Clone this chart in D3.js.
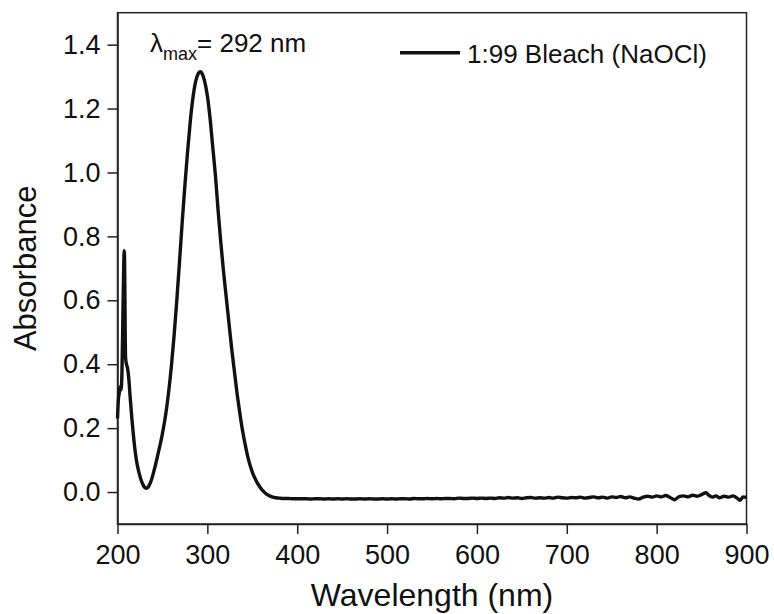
<!DOCTYPE html>
<html>
<head>
    <title>UV-Vis Absorbance D3.js</title>
    <script src="https://d3js.org/d3.v7.min.js"></script>
    <style>
        body { margin: 0; background: #fff; }
        #chart-container { width: 774px; height: 614px; }
        text { font-family: "Liberation Sans", Arial, sans-serif; fill: #111; }
        .axis path, .axis line { stroke: #222; stroke-width: 1.5; }
    </style>
</head>
<body>
<div id="chart-container"></div>

<script>
    // wavelength (nm) and absorbance
    const wavelength = [
        200, 201, 202, 203, 204, 205, 206, 207, 207.5, 208, 208.5, 209, 210, 211, 212, 213, 214, 216, 218, 220,
        222, 224, 226, 228, 230, 232, 234, 236, 238, 240, 242, 245, 248, 251, 254, 257, 260, 263, 266, 269,
        272, 275, 278, 281, 284, 287, 290, 292, 294, 297, 300, 303, 306, 309, 312, 315, 318, 321, 324, 327,
        330, 333, 336, 339, 342, 345, 348, 351, 354, 357, 360, 364, 368, 372, 376, 380, 385,
        390, 395, 400, 405, 410, 415, 420, 425, 430, 435, 440, 445, 450, 455, 460, 465, 470, 475, 480, 485,
        490, 495, 500, 505, 510, 515, 520, 525, 530, 535, 540, 545, 550, 555, 560, 565, 570, 575, 580, 585,
        590, 595, 600, 605, 610, 615, 620, 625, 630, 635, 640, 645, 650, 655, 660, 665, 670, 675, 680, 685,
        690, 695, 700, 705, 710, 715, 720, 725, 730, 735, 740, 745, 750, 755, 760, 765, 770, 775, 780, 785,
        790, 795, 800, 805, 810, 815, 820, 825, 830, 835, 840, 845, 850, 855, 858, 862, 866, 870, 875, 880,
        885, 890, 893, 896, 900
    ];
    const absorbance = [
        0.23, 0.29, 0.31, 0.33, 0.32, 0.38, 0.55, 0.72, 0.755, 0.70, 0.52, 0.42, 0.40, 0.39, 0.37, 0.34, 0.30, 0.23, 0.17, 0.12,
        0.085, 0.06, 0.04, 0.025, 0.015, 0.012, 0.015, 0.025, 0.04, 0.06, 0.082, 0.118, 0.155, 0.198, 0.25, 0.315, 0.395, 0.49, 0.60, 0.72,
        0.845, 0.96, 1.065, 1.16, 1.235, 1.285, 1.31, 1.315, 1.31, 1.285, 1.24, 1.17, 1.08, 0.99, 0.88, 0.78, 0.69, 0.61, 0.53, 0.45,
        0.38, 0.31, 0.25, 0.195, 0.15, 0.11, 0.08, 0.055, 0.037, 0.022, 0.01, -0.002, -0.01, -0.015, -0.018, -0.019, -0.02,
        -0.020, -0.021, -0.021, -0.021, -0.021, -0.022, -0.021, -0.021, -0.022, -0.021, -0.022, -0.021, -0.022, -0.021, -0.022, -0.022, -0.021, -0.022, -0.021, -0.022,
        -0.022, -0.021, -0.022, -0.021, -0.022, -0.021, -0.021, -0.022, -0.020, -0.021, -0.021, -0.020, -0.021, -0.020, -0.021, -0.020, -0.020, -0.021, -0.019, -0.020,
        -0.020, -0.019, -0.020, -0.019, -0.020, -0.019, -0.020, -0.018, -0.019, -0.017, -0.019, -0.018, -0.020, -0.018, -0.017, -0.019, -0.018, -0.019, -0.017, -0.019,
        -0.016, -0.018, -0.019, -0.017, -0.018, -0.016, -0.019, -0.017, -0.015, -0.018, -0.016, -0.019, -0.015, -0.017, -0.014, -0.018, -0.015, -0.019, -0.022, -0.016,
        -0.013, -0.016, -0.012, -0.015, -0.011, -0.017, -0.024, -0.014, -0.012, -0.015, -0.010, -0.013, -0.008, -0.002, -0.010, -0.016, -0.012, -0.018, -0.013, -0.016,
        -0.012, -0.020, -0.026, -0.015, -0.017
    ];
    const xTicks = [200, 300, 400, 500, 600, 700, 800, 900];
    const yTicks = [0.0, 0.2, 0.4, 0.6, 0.8, 1.0, 1.2, 1.4];
    const seriesName = '1:99 Bleach (NaOCl)';
    const peakLabel = 292;

    const width = 774;
    const height = 614;
    const margin = { top: 12.7, right: 27.5, bottom: 90, left: 117.5 };
    const chartWidth = width - margin.left - margin.right;
    const chartHeight = height - margin.top - margin.bottom;

    const svg = d3.select('#chart-container')
        .append('svg')
        .attr('width', width)
        .attr('height', height);

    const chart = svg.append('g')
        .attr('transform', `translate(${margin.left},${margin.top})`);

    const xScale = d3.scaleLinear().domain([200, 900]).range([0, chartWidth]);
    const yScale = d3.scaleLinear().domain([-0.1, 1.5]).range([chartHeight, 0]);

    chart.append('g')
        .attr('class', 'axis')
        .attr('transform', `translate(0,${chartHeight})`)
        .call(d3.axisBottom(xScale).tickValues(xTicks).tickSize(10).tickSizeOuter(0).tickPadding(11).tickFormat(d3.format('d')));

    chart.append('g')
        .attr('class', 'axis')
        .call(d3.axisLeft(yScale).tickValues(yTicks).tickSize(10).tickSizeOuter(0).tickPadding(7).tickFormat(d3.format('.1f')));

    chart.selectAll('.axis text')
        .style('font-size', '27px')
        .style('font-family', '"Liberation Sans", Arial, sans-serif')
        .attr('fill', '#111');

    // frame
    chart.append('rect')
        .attr('width', chartWidth)
        .attr('height', chartHeight)
        .attr('fill', 'none')
        .attr('stroke', '#222')
        .attr('stroke-width', 1.5);

    const points = wavelength.map((w, i) => [w, absorbance[i]]);

    const line = d3.line()
        .x(d => xScale(d[0]))
        .y(d => yScale(d[1]))
        .curve(d3.curveMonotoneX);

    chart.append('path')
        .datum(points)
        .attr('fill', 'none')
        .attr('stroke', '#111')
        .attr('stroke-width', 3.4)
        .attr('stroke-linejoin', 'round')
        .attr('d', line);

    // legend
    chart.append('line')
        .attr('x1', 282.5).attr('x2', 342.5)
        .attr('y1', 40).attr('y2', 40)
        .attr('stroke', '#111')
        .attr('stroke-width', 3.4);

    chart.append('text')
        .attr('x', 349.5)
        .attr('y', 41.5)
        .attr('dy', '0.35em')
        .style('font-size', '26px')
        .text(seriesName);

    // lambda max annotation
    const lam = chart.append('text')
        .attr('x', 32.5)
        .attr('y', 39)
        .style('font-size', '26px');
    lam.append('tspan').text('λ');
    lam.append('tspan').attr('dy', 8).style('font-size', '18px').text('max');
    lam.append('tspan').attr('dy', -8).text(`= ${peakLabel} nm`);

    // axis titles
    svg.append('text')
        .attr('x', margin.left + chartWidth / 2)
        .attr('y', 606)
        .attr('text-anchor', 'middle')
        .style('font-size', '32px')
        .text('Wavelength (nm)');

    svg.append('text')
        .attr('transform', 'rotate(-90)')
        .attr('x', -(margin.top + chartHeight / 2))
        .attr('y', 36)
        .attr('text-anchor', 'middle')
        .style('font-size', '31px')
        .text('Absorbance');
</script>
</body>
</html>
